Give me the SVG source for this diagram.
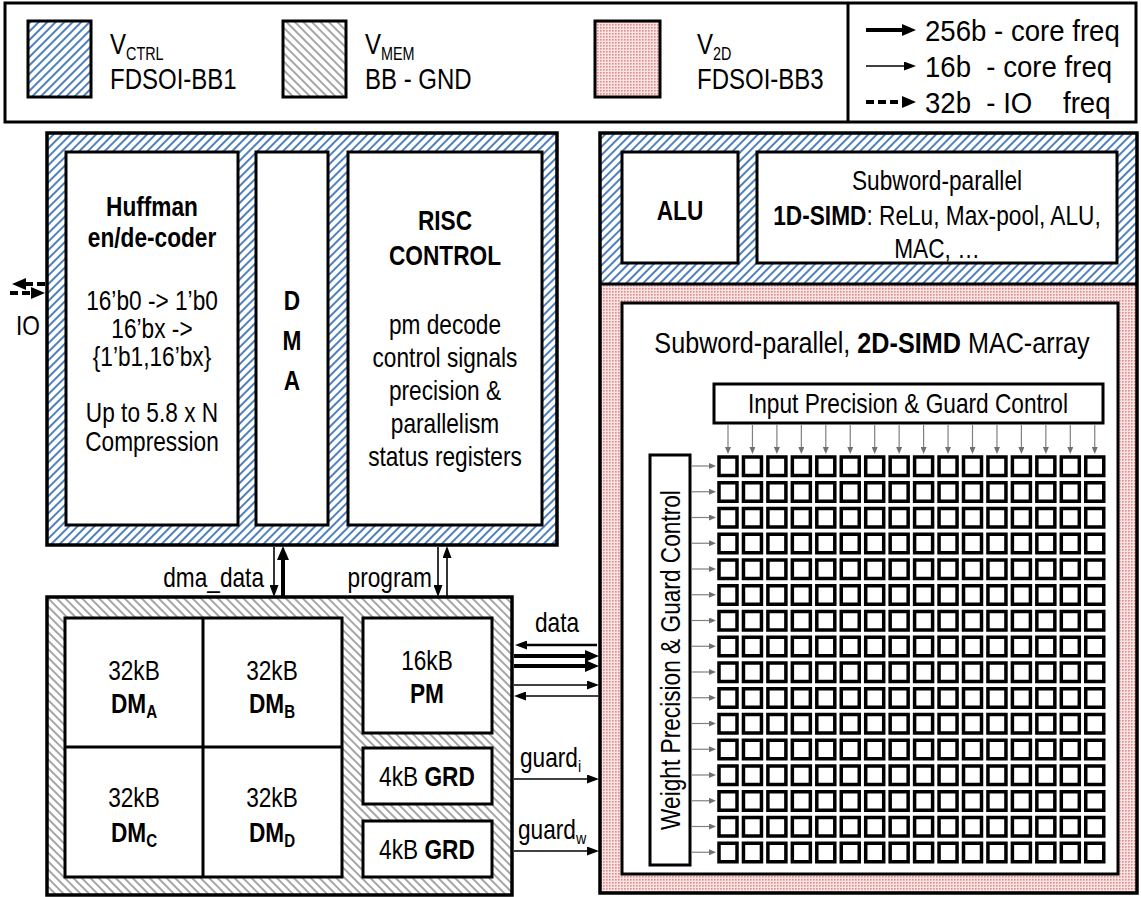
<svg xmlns="http://www.w3.org/2000/svg" width="1141" height="897" viewBox="0 0 1141 897">
<style>
text{font-family:"Liberation Sans",Arial,sans-serif;font-size:27px;fill:#000}
.b{font-weight:bold}
.c{text-anchor:middle;transform-box:fill-box;transform-origin:center;transform:scaleX(.84)}
.s{transform-box:fill-box;transform-origin:left center;transform:scaleX(.84)}
.e{text-anchor:end;transform-box:fill-box;transform-origin:right center;transform:scaleX(.84)}
.lg{font-size:30px;transform-box:fill-box;transform-origin:left center;transform:scaleX(.8)}
.lr{font-size:30px;transform-box:fill-box;transform-origin:left center;transform:scaleX(.92)}
.box{fill:#fff;stroke:#000;stroke-width:3}
.thick{stroke:#000;stroke-width:4;fill:none}
.thin{stroke:#000;stroke-width:1.6;fill:none}
.mid{stroke:#000;stroke-width:2.6;fill:none}
.dash{stroke:#000;stroke-width:4;fill:none;stroke-dasharray:8 4}
.cell{fill:#fff;stroke:#000;stroke-width:3.5}
.g{stroke:#808080;stroke-width:1.2;fill:none}
</style>
<defs>
<pattern id="hb" patternUnits="userSpaceOnUse" width="6" height="6" patternTransform="rotate(45)"><rect width="6" height="6" fill="#fff"/><line x1="1" y1="0" x2="1" y2="6" stroke="#4f81bd" stroke-width="2"/></pattern>
<pattern id="hg" patternUnits="userSpaceOnUse" width="6" height="6" patternTransform="rotate(-45)"><rect width="6" height="6" fill="#fff"/><line x1="1" y1="0" x2="1" y2="6" stroke="#a6a6a6" stroke-width="2"/></pattern>
<pattern id="pk" patternUnits="userSpaceOnUse" width="3" height="3"><rect width="3" height="3" fill="#f9e4e4"/><rect width="1.6" height="1.6" fill="#e08a8a"/></pattern>
<marker id="aT" markerUnits="userSpaceOnUse" markerWidth="14" markerHeight="12" refX="1" refY="6" orient="auto"><path d="M0,0 L14,6 L0,12 z" fill="#000"/></marker>
<marker id="aN" markerUnits="userSpaceOnUse" markerWidth="12" markerHeight="9" refX="1" refY="4.5" orient="auto"><path d="M0,0 L12,4.5 L0,9 z" fill="#000"/></marker>
<marker id="aG" markerUnits="userSpaceOnUse" markerWidth="7" markerHeight="6" refX="1" refY="3" orient="auto"><path d="M0,0 L7,3 L0,6 z" fill="#707070"/></marker>
</defs>
<rect width="1141" height="897" fill="#fff"/>

<g id="legend">
<rect x="5" y="3" width="1131" height="119" fill="#fff" stroke="#000" stroke-width="3"/>
<line x1="848" y1="3" x2="848" y2="122" stroke="#000" stroke-width="3"/>
<rect x="28" y="21" width="63" height="76" fill="url(#hb)" stroke="#000" stroke-width="3"/>
<text class="lg" x="110" y="54">V<tspan font-size="18" dy="6">CTRL</tspan></text>
<text class="lg" x="110" y="89">FDSOI-BB1</text>
<rect x="283" y="21" width="63" height="76" fill="url(#hg)" stroke="#000" stroke-width="3"/>
<text class="lg" x="365" y="54">V<tspan font-size="18" dy="6">MEM</tspan></text>
<text class="lg" x="365" y="89">BB - GND</text>
<rect x="595" y="21" width="65" height="76" fill="url(#pk)" stroke="#000" stroke-width="3"/>
<text class="lg" x="697" y="54">V<tspan font-size="18" dy="6">2D</tspan></text>
<text class="lg" x="697" y="89">FDSOI-BB3</text>
<line class="thick" x1="866" y1="30" x2="903" y2="30" marker-end="url(#aT)"/>
<line class="thin" x1="866" y1="66" x2="905" y2="66" marker-end="url(#aN)"/>
<line class="dash" x1="866" y1="102" x2="903" y2="102" marker-end="url(#aT)"/>
<text class="lr" x="925" y="41">256b - core freq</text>
<text class="lr" x="925" y="77" xml:space="preserve">16b  - core freq</text>
<text class="lr" x="925" y="113" xml:space="preserve">32b  - IO    freq</text>
</g>

<g id="control">
<rect x="47" y="133" width="510" height="412" fill="url(#hb)" stroke="#000" stroke-width="3.5"/>
<g id="huffman">
<rect class="box" x="66" y="152" width="172" height="373"/>
<text class="c b" x="152" y="216">Huffman</text>
<text class="c b" x="152" y="247">en/de-coder</text>
<text class="c" x="152" y="310">16’b0 -&gt; 1’b0</text>
<text class="c" x="152" y="338">16’bx -&gt;</text>
<text class="c" x="152" y="366">{1’b1,16’bx}</text>
<text class="c" x="152" y="422">Up to 5.8 x N</text>
<text class="c" x="152" y="451">Compression</text>
</g>
<g id="dma">
<rect class="box" x="256" y="152" width="72" height="373"/>
<text class="c b" x="292" y="310">D</text>
<text class="c b" x="292" y="350">M</text>
<text class="c b" x="292" y="390">A</text>
</g>
<g id="risc">
<rect class="box" x="348" y="152" width="194" height="373"/>
<text class="c b" x="445" y="230">RISC</text>
<text class="c b" x="445" y="265">CONTROL</text>
<text class="c" x="445" y="334">pm decode</text>
<text class="c" x="445" y="367">control signals</text>
<text class="c" x="445" y="400">precision &amp;</text>
<text class="c" x="445" y="433">parallelism</text>
<text class="c" x="445" y="466">status registers</text>
</g>
</g>

<g id="memory">
<rect x="47" y="597" width="465" height="298" fill="url(#hg)" stroke="#000" stroke-width="3.5"/>
<g id="dm">
<rect class="box" x="65" y="618" width="277" height="259"/>
<line x1="203" y1="618" x2="203" y2="877" stroke="#000" stroke-width="3"/>
<line x1="65" y1="747" x2="342" y2="747" stroke="#000" stroke-width="3"/>
<text class="c" x="134" y="680">32kB</text>
<text class="c b" x="134" y="713">DM<tspan font-size="18" dy="5">A</tspan></text>
<text class="c" x="272" y="680">32kB</text>
<text class="c b" x="272" y="713">DM<tspan font-size="18" dy="5">B</tspan></text>
<text class="c" x="134" y="807">32kB</text>
<text class="c b" x="134" y="842">DM<tspan font-size="18" dy="5">C</tspan></text>
<text class="c" x="272" y="807">32kB</text>
<text class="c b" x="272" y="842">DM<tspan font-size="18" dy="5">D</tspan></text>
</g>
<g id="pm">
<rect class="box" x="363" y="618" width="129" height="115"/>
<text class="c" x="427" y="670">16kB</text>
<text class="c b" x="427" y="703">PM</text>
</g>
<g id="grd1">
<rect class="box" x="363" y="748" width="129" height="56"/>
<text class="c" x="427" y="786">4kB <tspan class="b">GRD</tspan></text>
</g>
<g id="grd2">
<rect class="box" x="363" y="821" width="129" height="56"/>
<text class="c" x="427" y="859">4kB <tspan class="b">GRD</tspan></text>
</g>
</g>

<g id="compute">
<rect x="600" y="133" width="537" height="151" fill="url(#hb)"/>
<rect x="600" y="284" width="537" height="609" fill="url(#pk)"/>
<rect x="600" y="133" width="537" height="760" fill="none" stroke="#000" stroke-width="3.5"/>
<line x1="600" y1="284" x2="1137" y2="284" stroke="#000" stroke-width="3"/>
<g id="alu">
<rect class="box" x="622" y="152" width="116" height="111"/>
<text class="c b" x="680" y="220">ALU</text>
</g>
<g id="simd1d">
<rect class="box" x="757" y="152" width="360" height="111"/>
<text class="c" x="937" y="190">Subword-parallel</text>
<text class="c" x="937" y="225"><tspan class="b">1D-SIMD</tspan>: ReLu, Max-pool, ALU,</text>
<text class="c" x="937" y="258">MAC, …</text>
</g>
<g id="macarray">
<rect class="box" x="622" y="303" width="496" height="571"/>
<text class="c" x="872" y="353" style="font-size:30px">Subword-parallel, <tspan class="b">2D-SIMD</tspan> MAC-array</text>
<g id="inputctrl">
<rect class="box" x="714" y="384" width="389" height="39"/>
<text class="c" x="908" y="413">Input Precision &amp; Guard Control</text>
</g>
<g id="weightctrl">
<rect class="box" x="650" y="455" width="40" height="410"/>
<text x="0" y="0" text-anchor="middle" transform="translate(680,660) rotate(-90) scale(0.84,1)">Weight Precision &amp; Guard Control</text>
</g>
<g id="cols">
<line class="g" x1="728" y1="424" x2="728" y2="448" marker-end="url(#aG)" id="ca"/>
<use href="#ca" x="24.45"/><use href="#ca" x="48.9"/><use href="#ca" x="73.35"/><use href="#ca" x="97.8"/><use href="#ca" x="122.25"/><use href="#ca" x="146.7"/><use href="#ca" x="171.15"/><use href="#ca" x="195.6"/><use href="#ca" x="220.05"/><use href="#ca" x="244.5"/><use href="#ca" x="268.95"/><use href="#ca" x="293.4"/><use href="#ca" x="317.85"/><use href="#ca" x="342.3"/><use href="#ca" x="366.75"/>
</g>
<g id="rows">
<line class="g" x1="691" y1="466" x2="710" y2="466" marker-end="url(#aG)" id="ra"/>
<use href="#ra" y="25.75"/><use href="#ra" y="51.5"/><use href="#ra" y="77.25"/><use href="#ra" y="103"/><use href="#ra" y="128.75"/><use href="#ra" y="154.5"/><use href="#ra" y="180.25"/><use href="#ra" y="206"/><use href="#ra" y="231.75"/><use href="#ra" y="257.5"/><use href="#ra" y="283.25"/><use href="#ra" y="309"/><use href="#ra" y="334.75"/><use href="#ra" y="360.5"/><use href="#ra" y="386.25"/>
</g>
<g id="grid">
<g id="row0">
<rect class="cell" x="719" y="457" width="18" height="18.5"/>
<rect class="cell" x="743.45" y="457" width="18" height="18.5"/>
<rect class="cell" x="767.9" y="457" width="18" height="18.5"/>
<rect class="cell" x="792.35" y="457" width="18" height="18.5"/>
<rect class="cell" x="816.8" y="457" width="18" height="18.5"/>
<rect class="cell" x="841.25" y="457" width="18" height="18.5"/>
<rect class="cell" x="865.7" y="457" width="18" height="18.5"/>
<rect class="cell" x="890.15" y="457" width="18" height="18.5"/>
<rect class="cell" x="914.6" y="457" width="18" height="18.5"/>
<rect class="cell" x="939.05" y="457" width="18" height="18.5"/>
<rect class="cell" x="963.5" y="457" width="18" height="18.5"/>
<rect class="cell" x="987.95" y="457" width="18" height="18.5"/>
<rect class="cell" x="1012.4" y="457" width="18" height="18.5"/>
<rect class="cell" x="1036.85" y="457" width="18" height="18.5"/>
<rect class="cell" x="1061.3" y="457" width="18" height="18.5"/>
<rect class="cell" x="1085.75" y="457" width="18" height="18.5"/>
</g>
<use href="#row0" y="25.75"/><use href="#row0" y="51.5"/><use href="#row0" y="77.25"/><use href="#row0" y="103"/><use href="#row0" y="128.75"/><use href="#row0" y="154.5"/><use href="#row0" y="180.25"/><use href="#row0" y="206"/><use href="#row0" y="231.75"/><use href="#row0" y="257.5"/><use href="#row0" y="283.25"/><use href="#row0" y="309"/><use href="#row0" y="334.75"/><use href="#row0" y="360.5"/><use href="#row0" y="386.25"/>
</g>
</g>
</g>

<g id="connectors">
<line class="dash" x1="45" y1="284" x2="25" y2="284" marker-end="url(#aT)"/>
<line class="dash" x1="10" y1="293" x2="32" y2="293" marker-end="url(#aT)"/>
<line class="thin" x1="274" y1="547" x2="274" y2="586" marker-end="url(#aN)"/>
<line class="thick" x1="283" y1="596" x2="283" y2="559" marker-end="url(#aT)"/>
<line class="thin" x1="438" y1="547" x2="438" y2="586" marker-end="url(#aN)"/>
<line class="thin" x1="447" y1="596" x2="447" y2="557" marker-end="url(#aN)"/>
<line class="mid" x1="597" y1="645" x2="526" y2="645" marker-end="url(#aN)"/>
<line class="thick" x1="514" y1="656" x2="586" y2="656" marker-end="url(#aT)"/>
<line class="thick" x1="514" y1="666" x2="586" y2="666" marker-end="url(#aT)"/>
<line class="thin" x1="514" y1="685" x2="588" y2="685" marker-end="url(#aN)"/>
<line class="thin" x1="598" y1="696" x2="525" y2="696" marker-end="url(#aN)"/>
<line class="thin" x1="514" y1="779" x2="588" y2="779" marker-end="url(#aN)"/>
<line class="thin" x1="514" y1="851" x2="588" y2="851" marker-end="url(#aN)"/>
</g>

<g id="labels">
<text class="c" x="28" y="335">IO</text>
<text class="e" x="264" y="587">dma_data</text>
<text class="e" x="432" y="587">program</text>
<text class="c" x="557" y="632">data</text>
<text class="s" x="520" y="767">guard<tspan font-size="17" dy="5">i</tspan></text>
<text class="s" x="518" y="839">guard<tspan font-size="17" dy="5">w</tspan></text>
</g>
</svg>
